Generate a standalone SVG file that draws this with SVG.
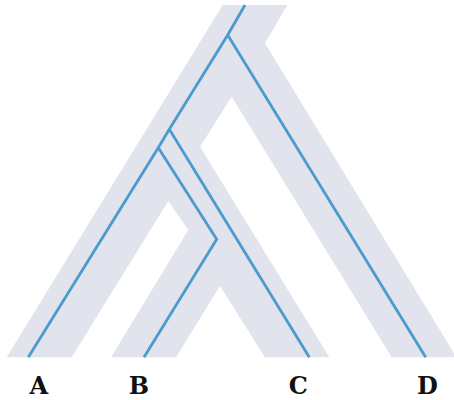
<svg xmlns="http://www.w3.org/2000/svg" width="454" height="400" viewBox="0 0 454 400">
  <style>
    .species { fill: #e1e3ed; stroke: none; }
    .gene { fill: none; stroke: #4b9ad0; stroke-width: 2.8; stroke-linejoin: miter; stroke-linecap: butt; }
    .label { font-family: "DejaVu Serif", "Liberation Serif", serif; font-weight: bold; font-size: 24px; fill: #111111; text-anchor: middle; }
  </style>
  <rect width="454" height="400" fill="#ffffff"/>

  <!-- species tree outline: root stem, D leg, then the (A,(B,C)) clade -->
  <g id="species-tree">
    <polygon class="species" points="222.7,5 287.3,5 265,43.3 456.5,357.3 391.7,357.3 231.7,96.7 200,146.7 329.3,357.3 265,357.3 220,286 176,357.3 111,357.3 188.3,230 168.3,201 71.7,357.3 6.7,357.3"/>
  </g>

  <!-- gene tree lineages drawn inside the species tree -->
  <g id="connectors">
    <polyline class="gene" points="245,5 227.7,35 169.3,129.3 158.3,147.7 28.3,357.3"/>
    <polyline class="gene" points="227.7,35 425.7,357.3"/>
    <polyline class="gene" points="169.3,129.3 309.3,357.3"/>
    <polyline class="gene" points="158.3,147.7 216.7,239.3 144,357.3"/>
  </g>

  <g id="tip-A"><text class="label" x="38.8" y="394">A</text></g>
  <g id="tip-B"><text class="label" x="139" y="394">B</text></g>
  <g id="tip-C"><text class="label" x="298.3" y="394">C</text></g>
  <g id="tip-D"><text class="label" x="427.5" y="394">D</text></g>
</svg>
